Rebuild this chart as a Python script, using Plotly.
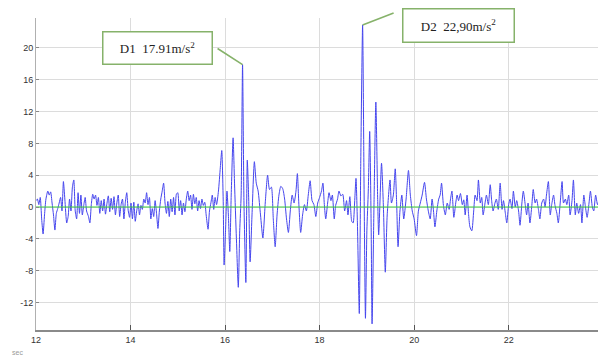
import plotly.graph_objects as go
import numpy as np

# time (s) and acceleration (m/s^2)
time_s = [
12.00,12.03,12.06,12.09,12.12,12.15,12.18,12.21,12.25,12.28,12.31,12.34,12.37,12.40,12.43,12.46,12.49,12.52,12.55,12.58,
12.61,12.65,12.68,12.71,12.74,12.77,12.80,12.83,12.86,12.89,12.92,12.95,12.98,13.01,13.04,13.07,13.11,13.14,13.17,13.20,
13.23,13.26,13.29,13.32,13.35,13.38,13.41,13.44,13.47,13.50,13.53,13.56,13.59,13.62,13.65,13.68,13.71,13.74,13.77,13.80,
13.83,13.86,13.89,13.92,13.95,13.98,14.01,14.04,14.07,14.10,14.13,14.16,14.19,14.22,14.25,14.28,14.31,14.34,14.37,14.40,
14.43,14.46,14.49,14.52,14.55,14.58,14.61,14.64,14.67,14.70,14.73,14.76,14.79,14.82,14.85,14.88,14.91,14.94,14.97,15.00,
15.03,15.06,15.09,15.12,15.15,15.18,15.21,15.24,15.27,15.30,15.33,15.36,15.39,15.42,15.45,15.48,15.51,15.54,15.57,15.60,
15.64,15.67,15.70,15.73,15.76,15.79,15.82,15.86,15.90,15.93,15.96,15.98,16.01,16.04,16.07,16.10,16.13,16.17,16.20,16.24,
16.28,16.31,16.34,16.37,16.40,16.44,16.47,16.50,16.53,16.57,16.62,16.66,16.70,16.75,16.80,16.85,16.90,16.94,16.98,17.02,
17.06,17.10,17.14,17.18,17.22,17.26,17.30,17.34,17.38,17.42,17.46,17.50,17.53,17.56,17.60,17.64,17.68,17.72,17.76,17.80,
17.84,17.88,17.92,17.96,18.00,18.04,18.07,18.10,18.13,18.17,18.20,18.24,18.27,18.31,18.34,18.38,18.41,18.45,18.49,18.53,
18.57,18.60,18.64,18.68,18.71,18.74,18.77,18.80,18.84,18.87,18.91,18.94,18.97,19.00,19.03,19.06,19.09,19.11,19.15,19.19,
19.23,19.25,19.31,19.35,19.39,19.43,19.49,19.52,19.56,19.60,19.63,19.66,19.70,19.74,19.78,19.83,19.88,19.92,19.96,20.00,
20.05,20.09,20.13,20.17,20.22,20.26,20.30,20.34,20.38,20.41,20.44,20.48,20.52,20.55,20.58,20.62,20.66,20.70,20.74,20.77,
20.80,20.84,20.88,20.91,20.94,20.98,21.02,21.05,21.08,21.12,21.15,21.18,21.22,21.26,21.29,21.33,21.36,21.40,21.43,21.46,
21.50,21.53,21.57,21.61,21.64,21.67,21.71,21.74,21.78,21.82,21.86,21.89,21.93,21.96,22.00,22.03,22.07,22.10,22.14,22.17,
22.21,22.24,22.28,22.31,22.35,22.38,22.41,22.45,22.49,22.52,22.56,22.59,22.63,22.66,22.70,22.74,22.77,22.80,22.84,22.88,
22.91,22.95,22.98,23.02,23.05,23.09,23.13,23.16,23.20,23.23,23.27,23.30,23.34,23.37,23.41,23.44,23.48,23.52,23.55,23.59,
23.62,23.66,23.70,23.73,23.77,23.80,23.84,23.88,23.92,
]
accel = [
0.8,1.0,0.3,1.2,-1.5,-3.4,-1.0,1.0,2.0,1.5,1.9,0.5,-1.0,-2.9,-0.8,-0.2,0.5,1.2,-0.5,3.2,
1.0,-2.0,-1.2,1.0,-0.5,2.5,3.4,-0.5,-1.5,1.8,-0.8,1.5,-1.0,0.2,1.2,-0.5,-1.2,-2.0,0.3,1.6,
1.0,1.5,0.2,1.2,-0.8,0.8,-0.5,1.0,-0.9,0.4,1.4,-0.6,1.1,-0.3,1.3,-1.0,0.5,1.5,-1.2,0.3,
1.0,-1.5,0.6,1.8,-0.4,-1.3,0.5,-1.5,0.6,-1.8,-0.5,0.4,-1.0,0.2,-0.3,1.0,0.5,1.8,0.3,1.2,
-1.5,-0.2,-1.2,0.8,-0.8,-2.7,-0.5,1.0,2.0,3.0,0.5,-0.8,0.7,-1.2,1.0,-0.6,1.2,-1.0,1.6,1.8,
-0.5,0.8,-1.0,0.5,-0.6,1.0,2.0,0.8,1.5,-0.3,1.6,0.4,1.2,-0.5,0.8,-0.2,1.0,0.2,0.6,-1.0,
-2.8,-0.5,0.5,1.5,-0.3,1.2,0.3,2.0,5.0,7.1,1.0,-7.3,-3.0,2.0,-1.0,-5.6,1.5,8.7,3.0,-4.0,
-10.1,-3.0,1.5,17.91,0.5,-9.5,5.9,1.0,-6.9,-1.0,5.7,3.0,2.0,-1.0,-3.9,0.5,4.0,2.2,2.5,-1.5,
-5.0,-1.0,1.5,2.6,2.3,1.0,-1.5,-3.2,-0.5,1.5,0.5,2.0,4.2,0.5,-3.2,-1.0,0.3,-0.5,1.5,3.3,
0.8,0.3,-1.2,0.5,1.2,2.0,3.0,0.3,-1.5,0.5,1.8,0.8,1.5,-1.5,0.2,1.0,2.0,1.4,1.6,-0.5,
0.8,-1.0,1.3,-1.8,-2.0,0.5,3.6,-2.0,-13.4,5.1,22.90,3.0,-14.0,-3.0,2.0,9.5,-2.0,-14.7,0.0,13.2,
0.5,-3.5,5.5,0.0,-8.2,-1.0,3.4,0.5,1.5,4.8,0.5,-5.0,-0.5,1.5,-1.5,1.0,4.6,1.5,-0.5,-1.5,
-3.6,-0.5,0.5,1.5,3.1,1.0,-0.5,-1.5,1.0,-0.5,-2.5,-0.5,1.0,1.5,3.0,0.2,-1.0,0.5,-0.3,1.0,
2.0,-1.3,0.5,1.5,0.8,1.7,0.3,0.9,-1.0,1.5,-0.8,-2.5,-3.0,-0.5,1.5,0.8,3.4,0.5,1.2,-1.0,
0.5,1.5,0.3,2.8,0.8,-0.5,0.5,1.0,-0.3,3.0,-0.3,0.8,-0.8,-2.0,0.3,1.0,-0.2,2.0,0.0,0.8,
-0.5,-2.3,0.5,2.0,0.3,-1.0,0.5,-2.0,0.2,2.2,0.5,1.0,-0.3,-1.5,0.5,1.0,0.0,1.5,3.2,-1.0,
0.3,1.5,0.2,-0.8,-2.0,0.5,3.2,0.5,1.0,0.3,1.5,-1.0,0.8,3.4,-1.0,0.5,-0.8,0.3,-2.0,1.5,
0.2,-1.3,0.5,2.0,0.0,-0.5,1.5,0.3,1.0,
]
baseline_x = [12.0, 23.92]
baseline_y = [0.0, 0.0]

x_ticks = [12, 14, 16, 18, 20, 22]
y_ticks = [-12, -8, -4, 0, 4, 8, 12, 16, 20]
label_d1 = "D1  17.91m/s<sup>2</sup>"
label_d2 = "D2  22,90m/s<sup>2</sup>"

t = np.array(time_s)
a = np.array(accel)
i1 = int(np.argmax(np.where(t < 18, a, -99)))
i2 = int(np.argmax(np.where(t > 18, a, -99)))

fig = go.Figure()
fig.add_trace(go.Scatter(x=time_s, y=accel, mode="lines",
                         line=dict(color="#4545ee", width=1, shape="spline", smoothing=0.6),
                         hoverinfo="skip"))
fig.add_trace(go.Scatter(x=baseline_x, y=baseline_y, mode="lines",
                         line=dict(color="#3ccf3c", width=1.2), hoverinfo="skip"))

box = dict(showarrow=False, bgcolor="white", bordercolor="#86b26a", borderwidth=1.5,
           font=dict(family="Liberation Serif", size=13, color="#222"),
           xref="x", yref="y")
fig.add_annotation(text=label_d1, x=14.571, y=20.0, width=104, height=27, borderpad=2, **box)
fig.add_annotation(text=label_d2, x=20.94, y=22.83, width=106, height=28, borderpad=2, **box)

# connector lines from boxes to peaks
conn = dict(text=" ", showarrow=True, arrowhead=0, arrowwidth=1.6, arrowcolor="#86b26a",
            xref="x", yref="y", axref="pixel", ayref="pixel", standoff=0, startstandoff=0)
fig.add_annotation(x=time_s[i1], y=accel[i1], ax=-28, ay=-18, **conn)
fig.add_annotation(x=time_s[i2], y=accel[i2], ax=34, ay=-13, **conn)

fig.add_annotation(text="sec", xref="paper", yref="paper", x=-0.046, y=-0.055,
                   xanchor="left", yanchor="top", showarrow=False,
                   font=dict(family="Liberation Sans", size=7, color="#999"))

fig.update_layout(
    width=598, height=358,
    margin=dict(l=36, r=0, t=18, b=28),
    paper_bgcolor="white", plot_bgcolor="white",
    showlegend=False,
    font=dict(family="Liberation Sans", size=9, color="#333"),
)
fig.update_xaxes(range=[12, 23.89], tickvals=x_ticks, ticktext=[str(v) for v in x_ticks],
                 showgrid=True, gridcolor="#dcdcdc", gridwidth=1,
                 showline=True, linecolor="#8a8a8a", linewidth=2,
                 ticks="inside", ticklen=5, tickcolor="#555", zeroline=False)
fig.update_yaxes(range=[-15.47, 23.77], tickvals=y_ticks, ticktext=[str(v) for v in y_ticks],
                 showgrid=True, gridcolor="#dcdcdc", gridwidth=1,
                 showline=True, linecolor="#b0b0b0", linewidth=1,
                 ticks="inside", ticklen=3, tickcolor="#888", zeroline=False)

fig.write_html("out.html")
